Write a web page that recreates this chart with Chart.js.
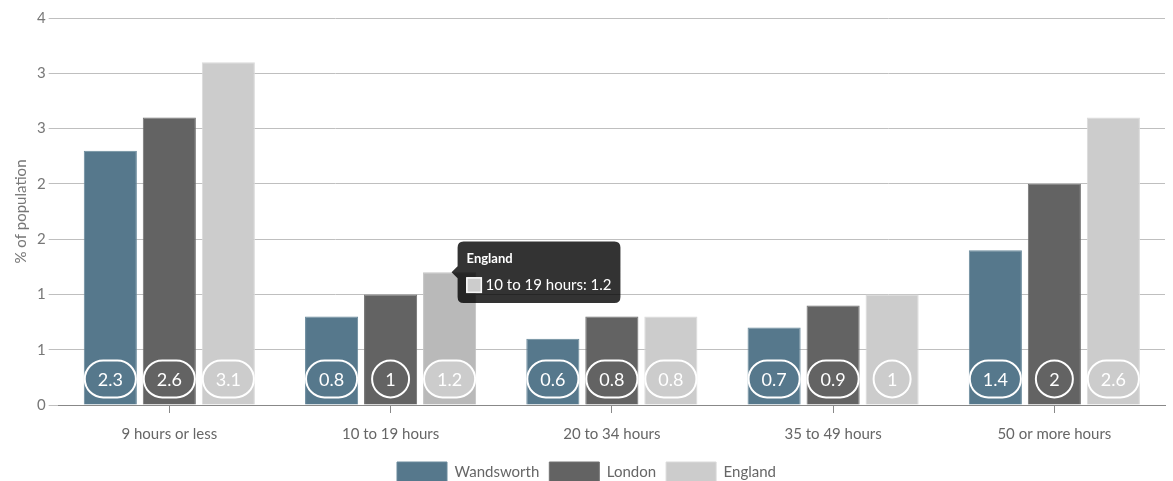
<!DOCTYPE html>
<html>
<head>
<meta charset="utf-8">
<script src="https://cdn.jsdelivr.net/npm/chart.js@4"></script>
<style>
  body { margin: 0; background: #fff; }
  #wrap { width: 1173px; height: 481px; }
</style>
</head>
<body>
<div id="wrap"><canvas id="hoursChart"></canvas></div>
<script>
const categories = ["9 hours or less", "10 to 19 hours", "20 to 34 hours", "35 to 49 hours", "50 or more hours"];
const wandsworth = [2.3, 0.8, 0.6, 0.7, 1.4];
const london = [2.6, 1, 0.8, 0.9, 2];
const england = [3.1, 1.2, 0.8, 1, 2.6];

Chart.defaults.font.family = "Lato, 'Open Sans', sans-serif";
Chart.defaults.color = "#666";

// rounded value badges at the foot of each bar
const pillLabels = {
    id: "pillLabels",
    afterDatasetsDraw(chart) {
        const ctx = chart.ctx;
        const base = chart.scales.y.getPixelForValue(0);
        ctx.save();
        ctx.font = "18px Lato, sans-serif";
        ctx.textAlign = "center";
        ctx.textBaseline = "middle";
        chart.data.datasets.forEach((ds, di) => {
            const meta = chart.getDatasetMeta(di);
            meta.data.forEach((bar, i) => {
                const txt = String(ds.data[i]);
                const h = 37;
                const w = Math.max(h, ctx.measureText(txt).width + 26);
                const cx = bar.x;
                const cy = base - 26;
                const r = h / 2;
                ctx.beginPath();
                ctx.moveTo(cx - w / 2 + r, cy - r);
                ctx.lineTo(cx + w / 2 - r, cy - r);
                ctx.arc(cx + w / 2 - r, cy, r, -Math.PI / 2, Math.PI / 2);
                ctx.lineTo(cx - w / 2 + r, cy + r);
                ctx.arc(cx - w / 2 + r, cy, r, Math.PI / 2, Math.PI * 1.5);
                ctx.closePath();
                ctx.fillStyle = ds.backgroundColor;
                ctx.fill();
                ctx.lineWidth = 2;
                ctx.strokeStyle = "#fff";
                ctx.stroke();
                ctx.fillStyle = "#fff";
                ctx.fillText(txt, cx, cy + 1);
            });
        });
        ctx.restore();
    }
};

const canvas = document.getElementById("hoursChart");
const chart = new Chart(canvas, {
    type: "bar",
    data: {
        labels: categories,
        datasets: [{
            label: "Wandsworth",
            data: wandsworth,
            backgroundColor: "#56788c",
            hoverBackgroundColor: "#4a6a7d",
            borderColor: "#6a8a9c",
            borderWidth: 1
        }, {
            label: "London",
            data: london,
            backgroundColor: "#636363",
            hoverBackgroundColor: "#555555",
            borderColor: "#727272",
            borderWidth: 1
        }, {
            label: "England",
            data: england,
            backgroundColor: "#cccccc",
            hoverBackgroundColor: "#b9b9b9",
            borderColor: "#dadada",
            borderWidth: 1
        }]
    },
    options: {
        responsive: true,
        maintainAspectRatio: false,
        animation: false,
        layout: { padding: { top: 18, right: 8, left: 8, bottom: -11 } },
        scales: {
            x: {
                grid: { display: true, drawOnChartArea: false, offset: false, tickLength: 8, color: "#888" },
                border: { display: true, color: "#888" },
                ticks: { font: { size: 15 }, color: "#666", padding: 12 },
                afterFit: scale => { scale.height -= 3; }
            },
            y: {
                min: 0,
                max: 3.5,
                grid: { color: "#bfbfbf", tickLength: 10 },
                border: { display: false },
                ticks: {
                    stepSize: 0.5,
                    font: { size: 15 },
                    color: "#777",
                    padding: 3,
                    callback: v => Math.round(v)
                },
                title: { display: true, text: "% of population", font: { size: 15 }, color: "#777" }
            }
        },
        plugins: {
            legend: {
                position: "bottom",
                labels: { boxWidth: 50, boxHeight: 20, font: { size: 15 }, color: "#666", padding: 10 }
            },
            tooltip: {
                xAlign: "left",
                yAlign: "center",
                backgroundColor: "rgba(0,0,0,0.8)",
                titleFont: { size: 13, weight: "bold" },
                bodyFont: { size: 15 },
                titleMarginBottom: 10,
                padding: 9,
                cornerRadius: 6,
                caretSize: 6,
                boxWidth: 15,
                boxHeight: 15,
                boxPadding: 2,
                callbacks: {
                    title: items => items[0].dataset.label,
                    label: item => item.label + ": " + item.raw,
                    labelColor: item => ({ borderColor: "#fff", backgroundColor: item.dataset.backgroundColor, borderWidth: 1 })
                }
            }
        }
    },
    plugins: [pillLabels]
});

const active = [{ datasetIndex: 2, index: 1 }];
chart.setActiveElements(active);
chart.tooltip.setActiveElements(active, { x: 450, y: 271 });
chart.update();
</script>
</body>
</html>
